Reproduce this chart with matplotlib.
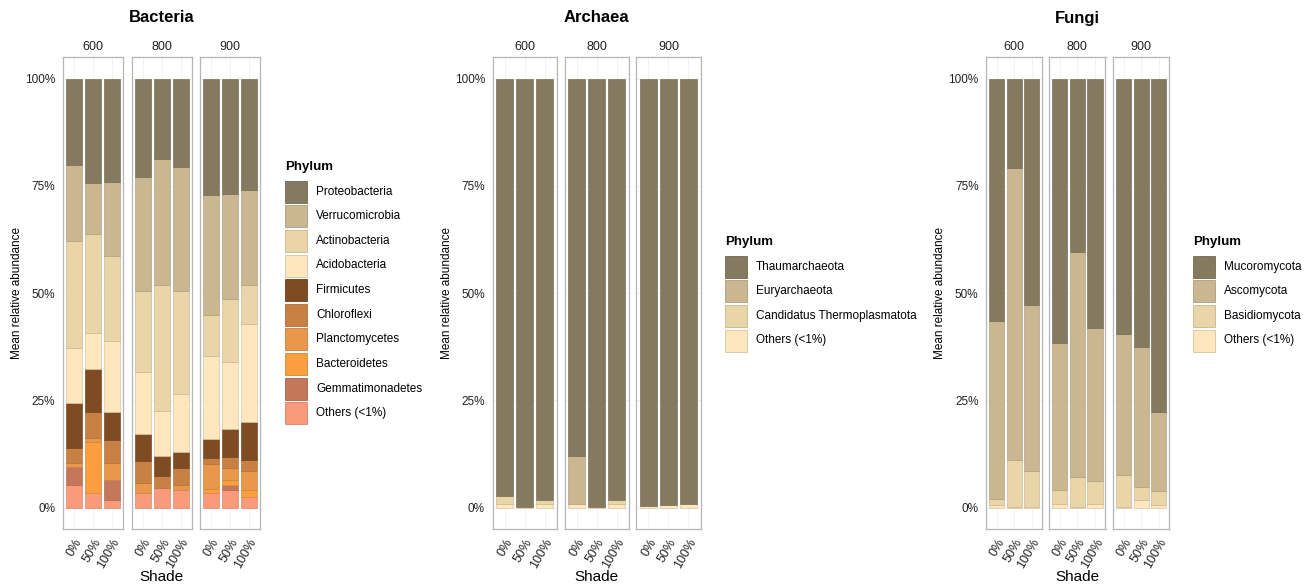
import numpy as np
import matplotlib.pyplot as plt
from matplotlib.patches import Rectangle
from matplotlib.colors import to_rgb

plt.rcParams['font.family'] = ['Liberation Sans', 'DejaVu Sans']

W, H = 1309, 586

elevations = ['600', '800', '900']
shades = ['0%', '50%', '100%']

# mean relative abundance (%) per phylum, columns: 600 (0,50,100), 800 (0,50,100), 900 (0,50,100)
bacteria_phyla = ['Proteobacteria', 'Verrucomicrobia', 'Actinobacteria', 'Acidobacteria',
                  'Firmicutes', 'Chloroflexi', 'Planctomycetes', 'Bacteroidetes',
                  'Gemmatimonadetes', 'Others (<1%)']
bacteria_values = [
    [20.1, 24.4, 24.0, 23.0, 18.6, 20.6, 27.0, 26.8, 26.0],
    [17.8, 11.9, 17.3, 26.4, 29.6, 28.8, 28.2, 24.6, 22.2],
    [25.0, 23.1, 19.9, 18.9, 29.2, 24.1, 9.5, 14.6, 9.1],
    [12.7, 8.2, 16.6, 14.6, 10.6, 13.6, 19.4, 15.6, 22.8],
    [10.5, 10.0, 6.5, 6.3, 4.6, 3.7, 4.3, 6.5, 8.9],
    [3.4, 6.1, 5.4, 5.0, 2.9, 3.9, 1.4, 2.6, 2.5],
    [1.1, 1.0, 3.8, 2.4, 0.0, 1.1, 5.8, 2.9, 4.3],
    [0.0, 11.9, 0.0, 0.0, 0.0, 0.0, 1.0, 1.2, 1.8],
    [4.2, 0.0, 4.85, 0.0, 0.0, 0.0, 0.0, 1.2, 0.0],
    [5.2, 3.4, 1.65, 3.4, 4.5, 4.2, 3.4, 4.0, 2.4],
]
bacteria_colors = ['#857a60', '#cab792', '#ead5a9', '#fee6bd', '#7e4b22',
                   '#c98143', '#e9974a', '#fb9e3f', '#c5775c', '#fb9a7a']

archaea_phyla = ['Thaumarchaeota', 'Euryarchaeota', 'Candidatus Thermoplasmatota', 'Others (<1%)']
archaea_values = [
    [97.3, 99.9, 98.2, 87.9, 99.8, 98.2, 99.7, 99.4, 99.1],
    [0.0, 0.0, 0.0, 11.2, 0.0, 0.0, 0.0, 0.0, 0.0],
    [1.8, 0.0, 1.0, 0.0, 0.0, 1.0, 0.0, 0.0, 0.0],
    [0.9, 0.1, 0.8, 0.9, 0.2, 0.8, 0.3, 0.6, 0.9],
]

fungi_phyla = ['Mucoromycota', 'Ascomycota', 'Basidiomycota', 'Others (<1%)']
fungi_values = [
    [56.4, 20.7, 52.8, 61.6, 40.5, 58.1, 59.6, 62.6, 77.6],
    [41.6, 68.2, 38.6, 34.2, 52.4, 35.8, 32.7, 32.7, 18.5],
    [1.5, 10.9, 8.4, 3.3, 6.9, 5.2, 7.5, 2.9, 3.4],
    [0.5, 0.2, 0.2, 0.9, 0.2, 0.9, 0.2, 1.8, 0.5],
]
small_colors = ['#857a60', '#cab792', '#ead5a9', '#fee6bd']


def darker(c, f=0.85):
    r, g, b = to_rgb(c)
    return (r * f, g * f, b * f)


def fx(px):
    return px / W


def fy(py):
    return 1 - py / H


PANEL_TOP, PANEL_BOT = 57.3, 529.0


def draw_group(fig, title, phyla, values, colors, lefts, width, ylab_x, leg_x, leg_y):
    values = np.array(values)
    x = np.arange(1, 4)
    for j, elev in enumerate(elevations):
        ax = fig.add_axes([fx(lefts[j]), fy(PANEL_BOT), fx(width),
                           (PANEL_BOT - PANEL_TOP) / H])
        bottom = np.zeros(3)
        for p in reversed(range(len(phyla))):
            vals = values[p, 3 * j:3 * j + 3]
            keep = vals > 0
            ax.bar(x[keep], vals[keep], 0.86, bottom=bottom[keep], color=colors[p],
                   edgecolor=darker(colors[p]), linewidth=0.45, zorder=2)
            bottom += vals
        ax.set_xlim(0.4, 3.6)
        ax.set_ylim(-5, 105)
        ax.set_xticks(x)
        ax.set_xticklabels(shades, rotation=60, ha='right', va='top',
                           rotation_mode='anchor', fontsize=9)
        ax.set_yticks([0, 25, 50, 75, 100])
        if j == 0:
            ax.set_yticklabels(['0%', '25%', '50%', '75%', '100%'], fontsize=8.5)
        else:
            ax.set_yticklabels([])
        ax.tick_params(length=0, pad=5.5, colors='#222222')
        ax.grid(True, color='#f0f0f0', linewidth=0.6, zorder=0)
        ax.set_axisbelow(True)
        for s in ax.spines.values():
            s.set_color('#b5b5b5')
            s.set_linewidth(0.9)
        ax.set_title(elev, fontsize=9, pad=5, color='#222222')

    cx = (lefts[0] + lefts[-1] + width) / 2
    fig.text(fx(cx), fy(18), title, ha='center', va='center', fontsize=12, fontweight='bold')
    fig.text(fx(cx), fy(577), 'Shade', ha='center', va='center', fontsize=11)
    fig.text(fx(ylab_x), fy((PANEL_TOP + PANEL_BOT) / 2), 'Mean relative abundance',
             rotation=90, ha='center', va='center', fontsize=8.5)

    # legend
    fig.text(fx(leg_x), fy(leg_y), 'Phylum', ha='left', va='center',
             fontsize=9.5, fontweight='bold')
    key, step = 22.0, 24.6
    top0 = leg_y + 14
    for i, name in enumerate(phyla):
        t = top0 + i * step
        fig.add_artist(Rectangle((fx(leg_x), fy(t + key)), fx(key), key / H,
                                 transform=fig.transFigure, facecolor=colors[i],
                                 edgecolor=darker(colors[i]), linewidth=0.6))
        fig.text(fx(leg_x + 31), fy(t + key / 2), name, ha='left', va='center', fontsize=8.5)


fig = plt.figure(figsize=(W / 100, H / 100), dpi=100)

draw_group(fig, 'Bacteria', bacteria_phyla, bacteria_values, bacteria_colors,
           [62.7, 131.7, 199.7], 60.5, 17, 285, 166.7)
draw_group(fig, 'Archaea', archaea_phyla, archaea_values, small_colors,
           [492.5, 564.5, 636.3], 64.2, 447, 725, 241.7)
draw_group(fig, 'Fungi', fungi_phyla, fungi_values, small_colors,
           [986.2, 1049.3, 1113.0], 56.2, 940, 1193.3, 241.7)

fig.savefig('out.png', dpi=100, facecolor='white')
